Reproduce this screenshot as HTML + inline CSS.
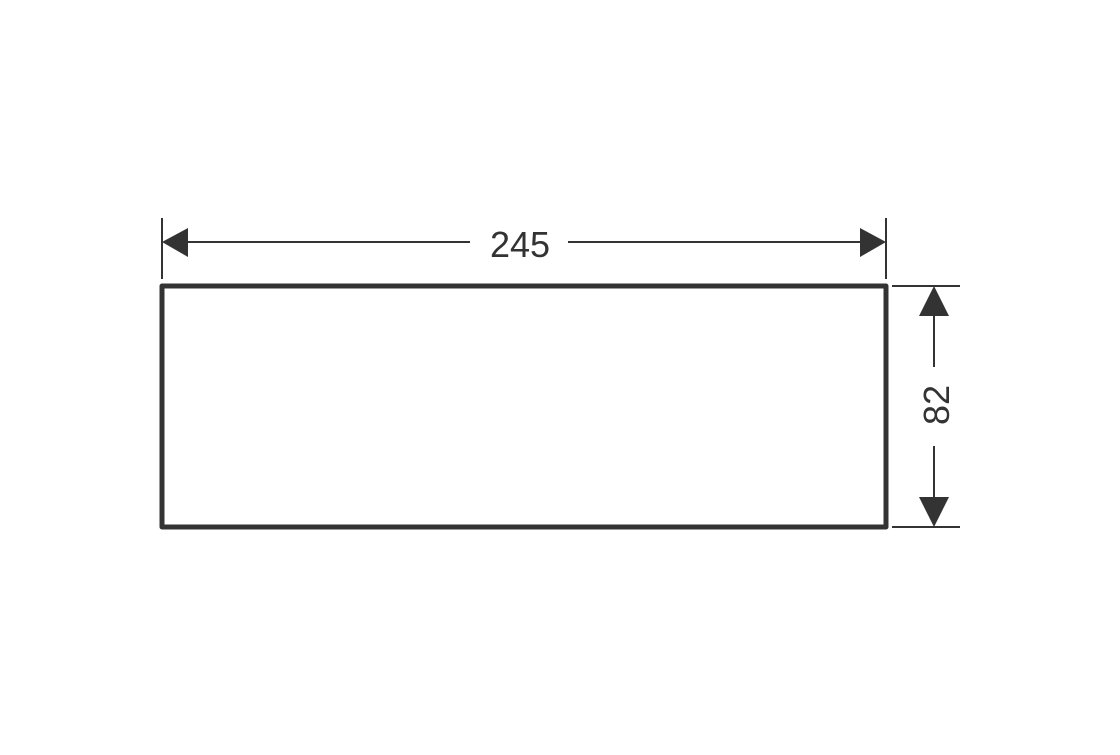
<!DOCTYPE html>
<html><head><style>body{margin:0;background:#fff}</style></head><body>
<svg width="1120" height="750" xmlns="http://www.w3.org/2000/svg">
<rect x="162" y="286" width="724" height="241" fill="none" stroke="#333" stroke-width="5" stroke-linejoin="round"/>
<g stroke="#333" stroke-width="2">
<line x1="162" y1="218" x2="162" y2="279"/>
<line x1="886" y1="218" x2="886" y2="279"/>
<line x1="186" y1="242" x2="470" y2="242"/>
<line x1="568" y1="242" x2="862" y2="242"/>
<line x1="892" y1="286" x2="960" y2="286"/>
<line x1="892" y1="527" x2="960" y2="527"/>
<line x1="934" y1="314" x2="934" y2="367"/>
<line x1="934" y1="446" x2="934" y2="499"/>
</g>
<g fill="#333">
<polygon points="162,242 188,228 188,257"/>
<polygon points="886,242 860,228 860,257"/>
<polygon points="934,286 919,316 949,316"/>
<polygon points="934,527 919,497 949,497"/>
</g>
<text x="520" y="257" text-anchor="middle" font-family="Liberation Sans, sans-serif" font-size="36" fill="#333">245</text>
<text transform="translate(949,405) rotate(-90)" text-anchor="middle" font-family="Liberation Sans, sans-serif" font-size="36" fill="#333">82</text>
</svg>
</body></html>
